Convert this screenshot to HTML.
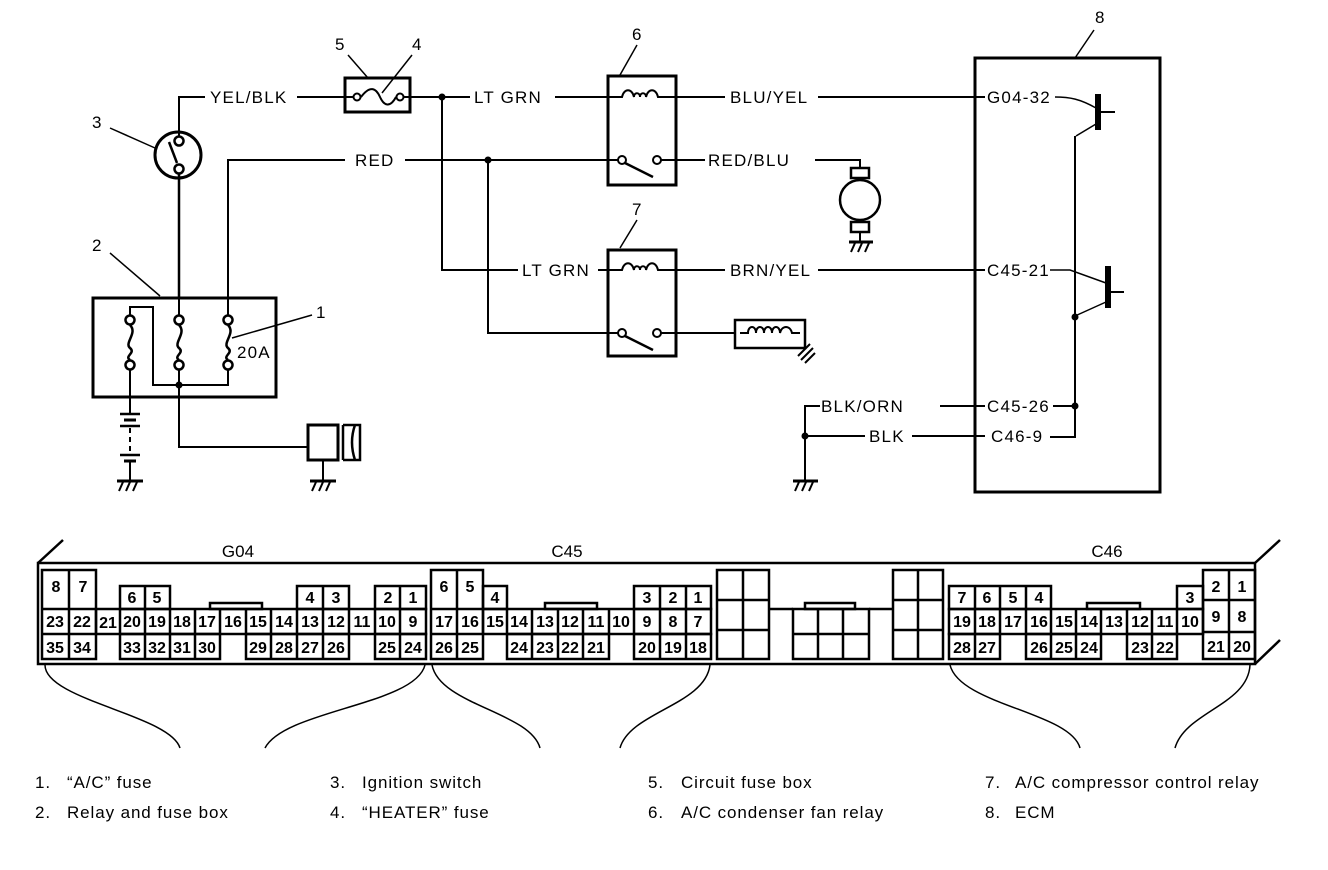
<!DOCTYPE html>
<html><head><meta charset="utf-8"><style>
html,body{margin:0;padding:0;background:#fff;}
svg{display:block;}
text{font-family:"Liberation Sans",Arial,sans-serif;fill:#000;}
.l{font-size:17px;letter-spacing:1.2px;}
.n{font-size:16px;font-weight:bold;text-anchor:middle;}
.c{font-size:17px;text-anchor:middle;}
.lg{font-size:17px;letter-spacing:0.9px;}
</style></head><body>
<svg width="1328" height="870" viewBox="0 0 1328 870" xmlns="http://www.w3.org/2000/svg">
<g fill="none" stroke="#000" stroke-width="2">
<circle cx="178" cy="155" r="23" stroke-width="3"/>
<circle cx="179" cy="141" r="4.5" stroke-width="2.5"/>
<circle cx="179" cy="169" r="4.5" stroke-width="2.5"/>
<line x1="169" y1="142" x2="177" y2="163" stroke-width="2.5"/>
<polyline points="179,136 179,97 205,97"/>
<line x1="179" y1="174" x2="179" y2="298" stroke-width="2.5"/>
<line x1="110" y1="128" x2="155" y2="148" stroke-width="1.5"/>
<line x1="297" y1="97" x2="345" y2="97"/>
<rect x="345" y="78" width="65" height="34" stroke-width="3"/>
<line x1="345" y1="97" x2="353" y2="97"/>
<circle cx="357" cy="97" r="3.5"/>
<path d="M361,97 C370,85 376,88 380,97 C384,106 390,108 396,97"/>
<circle cx="400" cy="97" r="3.5"/>
<line x1="404" y1="97" x2="470" y2="97"/>
<line x1="348" y1="55" x2="368" y2="78" stroke-width="1.5"/>
<line x1="412" y1="55" x2="382" y2="93" stroke-width="1.5"/>
<circle cx="442" cy="97" r="2.5" fill="#000"/>
<polyline points="442,97 442,270 518,270"/>
<line x1="555" y1="97" x2="608" y2="97"/>
<line x1="598" y1="270" x2="608" y2="270"/>
<polyline points="228,298 228,160 345,160"/>
<line x1="405" y1="160" x2="608" y2="160"/>
<circle cx="488" cy="160" r="2.5" fill="#000"/>
<polyline points="488,160 488,333 608,333"/>
<rect x="608" y="76" width="68" height="109" stroke-width="3"/>
<path d="M608,97 L622,97 C624,88 632,88 634,97 C634,92 640,92 640,97 C640,92 646,92 646,97 C648,88 656,88 658,97 L676,97"/>
<line x1="676" y1="97" x2="725" y2="97"/>
<line x1="818" y1="97" x2="985" y2="97"/>
<line x1="608" y1="160" x2="618" y2="160"/>
<circle cx="622" cy="160" r="4"/>
<line x1="625" y1="163" x2="653" y2="177" stroke-width="2.5"/>
<circle cx="657" cy="160" r="4"/>
<line x1="661" y1="160" x2="705" y2="160"/>
<polyline points="815,160 860,160 860,168"/>
<line x1="620" y1="75" x2="637" y2="45" stroke-width="1.5"/>
<rect x="851" y="168" width="18" height="10" stroke-width="2.5"/>
<circle cx="860" cy="200" r="20" stroke-width="2.5"/>
<rect x="851" y="222" width="18" height="10" stroke-width="2.5"/>
<line x1="860" y1="232" x2="860" y2="242"/>
<line x1="849" y1="242" x2="873" y2="242" stroke-width="3"/>
<path d="M855,243 l-4,9 M862,243 l-4,9 M869,243 l-4,9"/>
<rect x="608" y="250" width="68" height="106" stroke-width="3"/>
<path d="M598,270 L622,270 C624,261 632,261 634,270 C634,265 640,265 640,270 C640,265 646,265 646,270 C648,261 656,261 658,270 L676,270"/>
<line x1="676" y1="270" x2="725" y2="270"/>
<line x1="818" y1="270" x2="985" y2="270"/>
<line x1="608" y1="333" x2="618" y2="333"/>
<circle cx="622" cy="333" r="4"/>
<line x1="625" y1="336" x2="653" y2="350" stroke-width="2.5"/>
<circle cx="657" cy="333" r="4"/>
<line x1="661" y1="333" x2="735" y2="333"/>
<rect x="735" y="320" width="70" height="28" stroke-width="2.5"/>
<path d="M740,333 L748,333 C748,325 756,325 756,333 C756,325 764,325 764,333 C764,325 772,325 772,333 C772,325 780,325 780,333 C782,325 790,325 792,333 L800,333"/>
<path d="M798,356 l12,-12 M801,360 l12,-12 M805,363 l10,-10" stroke-width="2"/>
<line x1="620" y1="248" x2="637" y2="220" stroke-width="1.5"/>
<rect x="975" y="58" width="185" height="434" stroke-width="3"/>
<line x1="1075" y1="58" x2="1094" y2="30" stroke-width="1.5"/>
<path d="M1055,97 C1070,97 1080,99 1096,108" stroke-width="1.5"/>
<line x1="1098" y1="94" x2="1098" y2="130" stroke-width="6"/>
<line x1="1100" y1="112" x2="1115" y2="112"/>
<line x1="1096" y1="124" x2="1076" y2="136" stroke-width="1.5"/>
<polyline points="1075,136 1075,437 1050,437" stroke-width="2"/>
<path d="M1050,270 L1070,270 L1106,283" stroke-width="1.5"/>
<line x1="1108" y1="266" x2="1108" y2="308" stroke-width="6"/>
<line x1="1110" y1="292" x2="1124" y2="292"/>
<line x1="1106" y1="302" x2="1075" y2="316" stroke-width="1.5"/>
<circle cx="1075" cy="317" r="2.5" fill="#000"/>
<circle cx="1075" cy="406" r="2.5" fill="#000"/>
<line x1="1053" y1="406" x2="1075" y2="406"/>
<line x1="940" y1="406" x2="985" y2="406"/>
<line x1="912" y1="436" x2="985" y2="436"/>
<polyline points="820,406 805,406 805,480"/>
<line x1="805" y1="436" x2="865" y2="436"/>
<circle cx="805" cy="436" r="2.5" fill="#000"/>
<line x1="793" y1="481" x2="818" y2="481" stroke-width="3"/>
<path d="M799,482 l-4,9 M806,482 l-4,9 M813,482 l-4,9"/>
<rect x="93" y="298" width="183" height="99" stroke-width="3"/>
<line x1="110" y1="253" x2="160" y2="296" stroke-width="1.5"/>
<polyline points="130,316 130,307 153,307 153,385 228,385 228,369"/>
<line x1="179" y1="298" x2="179" y2="316"/>
<line x1="228" y1="298" x2="228" y2="316"/>
<g stroke-width="2.5">
<circle cx="130" cy="320" r="4.5"/><circle cx="130" cy="365" r="4.5"/>
<path d="M130,325 C138,333 124,343 130,348 C136,353 124,356 130,360"/>
<circle cx="179" cy="320" r="4.5"/><circle cx="179" cy="365" r="4.5"/>
<path d="M179,325 C187,333 173,343 179,348 C185,353 173,356 179,360"/>
<circle cx="228" cy="320" r="4.5"/><circle cx="228" cy="365" r="4.5"/>
<path d="M228,325 C236,333 222,343 228,348 C234,353 222,356 228,360"/>
</g>
<line x1="179" y1="370" x2="179" y2="385"/>
<circle cx="179" cy="385" r="2.5" fill="#000"/>
<polyline points="179,385 179,447 308,447"/>
<line x1="232" y1="338" x2="312" y2="315" stroke-width="1.5"/>
<line x1="130" y1="370" x2="130" y2="413"/>
<line x1="120" y1="414" x2="140" y2="414" stroke-width="2.5"/>
<line x1="124" y1="420" x2="136" y2="420" stroke-width="3"/>
<line x1="120" y1="426" x2="140" y2="426" stroke-width="2.5"/>
<line x1="130" y1="428" x2="130" y2="452" stroke-dasharray="5,4"/>
<line x1="120" y1="455" x2="140" y2="455" stroke-width="2.5"/>
<line x1="124" y1="461" x2="136" y2="461" stroke-width="3"/>
<line x1="130" y1="462" x2="130" y2="480"/>
<line x1="117" y1="481" x2="143" y2="481" stroke-width="3"/>
<path d="M123,482 l-4,9 M130,482 l-4,9 M137,482 l-4,9"/>
<rect x="308" y="425" width="30" height="35" stroke-width="3"/>
<path d="M343,425 L343,460 M343,425 L355,425 Q349,442 355,460 L343,460 M355,425 L360,425 L360,460 L355,460" stroke-width="2.5"/>
<line x1="323" y1="460" x2="323" y2="480"/>
<line x1="310" y1="481" x2="336" y2="481" stroke-width="3"/>
<path d="M316,482 l-4,9 M323,482 l-4,9 M330,482 l-4,9"/>
</g>
<g class="l">
<text x="210" y="103">YEL/BLK</text>
<text x="474" y="103">LT GRN</text>
<text x="355" y="166">RED</text>
<text x="522" y="276">LT GRN</text>
<text x="730" y="103">BLU/YEL</text>
<text x="708" y="166">RED/BLU</text>
<text x="730" y="276">BRN/YEL</text>
<text x="987" y="103">G04-32</text>
<text x="987" y="276">C45-21</text>
<text x="987" y="412">C45-26</text>
<text x="991" y="442">C46-9</text>
<text x="821" y="412">BLK/ORN</text>
<text x="869" y="442">BLK</text>
<text x="237" y="358">20A</text>
<text x="92" y="128">3</text>
<text x="335" y="50">5</text>
<text x="412" y="50">4</text>
<text x="632" y="40">6</text>
<text x="632" y="215">7</text>
<text x="1095" y="23">8</text>
<text x="92" y="251">2</text>
<text x="316" y="318">1</text>
</g>
<g fill="none" stroke="#000" stroke-width="2.5">
<rect x="38" y="563" width="1217" height="101"/>
<line x1="38" y1="563" x2="63" y2="540"/>
<line x1="1255" y1="563" x2="1280" y2="540"/>
<line x1="1255" y1="664" x2="1280" y2="640"/>
<rect x="42" y="570" width="54" height="89"/>
<line x1="69" y1="570" x2="69" y2="659"/><line x1="42" y1="609" x2="96" y2="609"/><line x1="42" y1="634" x2="96" y2="634"/>
<rect x="96" y="609" width="330" height="25"/>
<path d="M120,609v25M145,609v25M170,609v25M195,609v25M220,609v25M246,609v25M271,609v25M297,609v25M323,609v25M349,609v25M375,609v25M400,609v25"/>
<rect x="120" y="586" width="50" height="23"/><line x1="145" y1="586" x2="145" y2="609"/>
<rect x="297" y="586" width="52" height="23"/><line x1="323" y1="586" x2="323" y2="609"/>
<rect x="375" y="586" width="51" height="23"/><line x1="400" y1="586" x2="400" y2="609"/>
<rect x="120" y="634" width="100" height="25"/><path d="M145,634v25M170,634v25M195,634v25"/>
<rect x="246" y="634" width="103" height="25"/><path d="M271,634v25M297,634v25M323,634v25"/>
<rect x="375" y="634" width="51" height="25"/><line x1="400" y1="634" x2="400" y2="659"/>
<rect x="210" y="603" width="52" height="6"/>
<rect x="431" y="570" width="52" height="89"/>
<line x1="457" y1="570" x2="457" y2="659"/><line x1="431" y1="609" x2="483" y2="609"/><line x1="431" y1="634" x2="483" y2="634"/>
<rect x="483" y="586" width="24" height="23"/>
<rect x="634" y="586" width="77" height="23"/><path d="M660,586v23M686,586v23"/>
<rect x="483" y="609" width="228" height="25"/>
<path d="M507,609v25M532,609v25M558,609v25M583,609v25M609,609v25M634,609v25M660,609v25M686,609v25"/>
<rect x="507" y="634" width="102" height="25"/><path d="M532,634v25M558,634v25M583,634v25"/>
<rect x="634" y="634" width="77" height="25"/><path d="M660,634v25M686,634v25"/>
<rect x="545" y="603" width="52" height="6"/>
<rect x="717" y="570" width="52" height="89"/><path d="M743,570v89M717,600h52M717,630h52"/>
<rect x="793" y="609" width="76" height="50"/><path d="M818,609v50M843,609v50M793,634h76"/>
<rect x="805" y="603" width="50" height="6"/>
<path d="M769,609h24M869,609h24"/>
<rect x="893" y="570" width="50" height="89"/><path d="M918,570v89M893,600h50M893,630h50"/>
<rect x="949" y="586" width="102" height="23"/><path d="M975,586v23M1000,586v23M1026,586v23"/>
<rect x="1177" y="586" width="26" height="23"/>
<rect x="949" y="609" width="254" height="25"/>
<path d="M975,609v25M1000,609v25M1026,609v25M1051,609v25M1076,609v25M1101,609v25M1127,609v25M1152,609v25M1177,609v25"/>
<rect x="949" y="634" width="51" height="25"/><line x1="975" y1="634" x2="975" y2="659"/>
<rect x="1026" y="634" width="75" height="25"/><path d="M1051,634v25M1076,634v25"/>
<rect x="1127" y="634" width="50" height="25"/><line x1="1152" y1="634" x2="1152" y2="659"/>
<rect x="1203" y="570" width="52" height="89"/><path d="M1229,570v89M1203,600h52M1203,632h52"/>
<rect x="1087" y="603" width="53" height="6"/>
</g>
<g fill="none" stroke="#000" stroke-width="1.5">
<path d="M45,665 C45,700 170,715 180,748"/>
<path d="M265,748 C285,710 415,705 425,665"/>
<path d="M432,665 C440,705 530,712 540,748"/>
<path d="M620,748 C630,712 705,705 710,665"/>
<path d="M950,665 C960,705 1070,712 1080,748"/>
<path d="M1175,748 C1185,712 1248,705 1250,665"/>
</g>
<g class="c">
<text x="238" y="557">G04</text><text x="567" y="557">C45</text><text x="1107" y="557">C46</text>
</g>
<g class="n">
<text x="56" y="592">8</text><text x="83" y="592">7</text>
<text x="55" y="627">23</text><text x="82" y="627">22</text>
<text x="55" y="653">35</text><text x="82" y="653">34</text>
<text x="108" y="628">21</text>
<text x="132" y="603">6</text><text x="157" y="603">5</text>
<text x="310" y="603">4</text><text x="336" y="603">3</text>
<text x="388" y="603">2</text><text x="413" y="603">1</text>
<text x="132" y="627">20</text><text x="157" y="627">19</text><text x="182" y="627">18</text><text x="207" y="627">17</text><text x="233" y="627">16</text><text x="258" y="627">15</text><text x="284" y="627">14</text><text x="310" y="627">13</text><text x="336" y="627">12</text><text x="362" y="627">11</text><text x="387" y="627">10</text><text x="413" y="627">9</text>
<text x="132" y="653">33</text><text x="157" y="653">32</text><text x="182" y="653">31</text><text x="207" y="653">30</text>
<text x="258" y="653">29</text><text x="284" y="653">28</text><text x="310" y="653">27</text><text x="336" y="653">26</text>
<text x="387" y="653">25</text><text x="413" y="653">24</text>
<text x="444" y="592">6</text><text x="470" y="592">5</text>
<text x="444" y="627">17</text><text x="470" y="627">16</text>
<text x="444" y="653">26</text><text x="470" y="653">25</text>
<text x="495" y="603">4</text>
<text x="647" y="603">3</text><text x="673" y="603">2</text><text x="698" y="603">1</text>
<text x="495" y="627">15</text><text x="519" y="627">14</text><text x="545" y="627">13</text><text x="570" y="627">12</text><text x="596" y="627">11</text><text x="621" y="627">10</text><text x="647" y="627">9</text><text x="673" y="627">8</text><text x="698" y="627">7</text>
<text x="519" y="653">24</text><text x="545" y="653">23</text><text x="570" y="653">22</text><text x="596" y="653">21</text>
<text x="647" y="653">20</text><text x="673" y="653">19</text><text x="698" y="653">18</text>
<text x="962" y="603">7</text><text x="987" y="603">6</text><text x="1013" y="603">5</text><text x="1039" y="603">4</text>
<text x="1190" y="603">3</text>
<text x="962" y="627">19</text><text x="987" y="627">18</text><text x="1013" y="627">17</text><text x="1039" y="627">16</text><text x="1064" y="627">15</text><text x="1089" y="627">14</text><text x="1114" y="627">13</text><text x="1140" y="627">12</text><text x="1165" y="627">11</text><text x="1190" y="627">10</text>
<text x="962" y="653">28</text><text x="987" y="653">27</text>
<text x="1039" y="653">26</text><text x="1064" y="653">25</text><text x="1089" y="653">24</text>
<text x="1140" y="653">23</text><text x="1165" y="653">22</text>
<text x="1216" y="592">2</text><text x="1242" y="592">1</text>
<text x="1216" y="622">9</text><text x="1242" y="622">8</text>
<text x="1216" y="652">21</text><text x="1242" y="652">20</text>
</g>
<g class="lg">
<text x="35" y="788">1.</text><text x="67" y="788">“A/C” fuse</text>
<text x="35" y="818">2.</text><text x="67" y="818">Relay and fuse box</text>
<text x="330" y="788">3.</text><text x="362" y="788">Ignition switch</text>
<text x="330" y="818">4.</text><text x="362" y="818">“HEATER” fuse</text>
<text x="648" y="788">5.</text><text x="681" y="788">Circuit fuse box</text>
<text x="648" y="818">6.</text><text x="681" y="818">A/C condenser fan relay</text>
<text x="985" y="788">7.</text><text x="1015" y="788">A/C compressor control relay</text>
<text x="985" y="818">8.</text><text x="1015" y="818">ECM</text>
</g>
</svg>
</body></html>
